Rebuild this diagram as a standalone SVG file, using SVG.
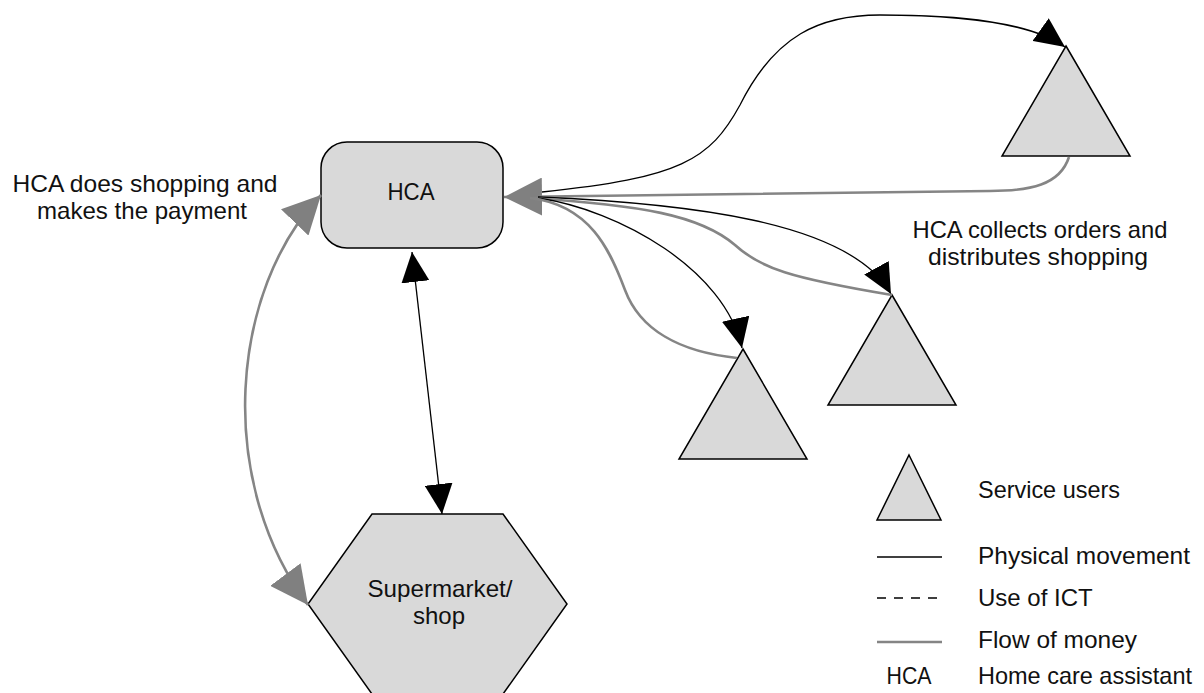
<svg xmlns="http://www.w3.org/2000/svg" width="1204" height="693" viewBox="0 0 1204 693">
<style>
.shape{fill:#d9d9d9;stroke:#000;stroke-width:1.5}
.t{font-family:"Liberation Sans",Arial,sans-serif;font-size:24px;fill:#111}
.c{text-anchor:middle}
.phys{fill:none;stroke:#000;stroke-width:1.3}
.money{fill:none;stroke:#858585;stroke-width:2.6}
.ict{fill:none;stroke:#000;stroke-width:1.3;stroke-dasharray:9 8}
</style>
<defs>
<marker id="ab" markerUnits="userSpaceOnUse" markerWidth="30" markerHeight="28" refX="30" refY="14" orient="auto-start-reverse" viewBox="0 0 30 28">
<path d="M0,0 L30,14 L0,28 z" fill="#000"/>
</marker>
<marker id="ag" markerUnits="userSpaceOnUse" markerWidth="38" markerHeight="38" refX="38" refY="19" orient="auto-start-reverse" viewBox="0 0 38 38">
<path d="M0,0 L38,19 L0,38 z" fill="#808080"/>
</marker>
</defs>
<rect width="1204" height="693" fill="#fff"/>

<g id="hca">
<rect class="shape" x="321" y="142" width="182" height="106" rx="26" ry="26"/>
<text class="t c" x="411" y="200" textLength="47" lengthAdjust="spacingAndGlyphs">HCA</text>
</g>
<g id="shop">
<polygon class="shape" points="372,514 503,514 567,604 503,694 372,694 308,604"/>
<text class="t c" x="440" y="597" textLength="145" lengthAdjust="spacingAndGlyphs">Supermarket/</text>
<text class="t c" x="439" y="624">shop</text>
</g>
<g id="user-a">
<polygon class="shape" points="743,349 807,459 679,459"/>
</g>
<g id="user-b">
<polygon class="shape" points="892,295 956,405 828,405"/>
</g>
<g id="user-c">
<polygon class="shape" points="1066,46 1130,156 1002,156"/>
</g>

<g id="connectors">
<path class="phys" d="M542,192 C680,178 710,160 740,105 C775,35 820,15 880,15 C960,15 1030,22 1065,47" marker-end="url(#ab)"/>
<path class="money" d="M1069,157 C1060,185 1030,191 990,191 L504,197" marker-end="url(#ag)"/>
<path class="phys" d="M538,197 C680,203 850,220 891,294" marker-end="url(#ab)"/>
<path class="money" d="M530,198 C640,205 700,215 735,245 C760,268 790,278 892,295"/>
<path class="phys" d="M538,198 C620,210 725,270 742,348" marker-end="url(#ab)"/>
<path class="money" d="M530,198 C590,205 610,250 625,290 C640,330 680,352 737,358"/>
<path class="phys" d="M412,252 L442,514" marker-start="url(#ab)" marker-end="url(#ab)"/>
<path class="money" d="M321,195 C230,290 215,480 308,605" marker-start="url(#ag)" marker-end="url(#ag)"/>
</g>

<g id="labels">
<text class="t c" x="145" y="192" textLength="265" lengthAdjust="spacingAndGlyphs">HCA does shopping and</text>
<text class="t c" x="142" y="219" textLength="210" lengthAdjust="spacingAndGlyphs">makes the payment</text>
<text class="t c" x="1040" y="238" textLength="255" lengthAdjust="spacingAndGlyphs">HCA collects orders and</text>
<text class="t c" x="1038" y="265" textLength="220" lengthAdjust="spacingAndGlyphs">distributes shopping</text>
</g>

<g id="legend">
<polygon class="shape" points="909,455 941,520 877,520"/>
<text class="t" x="978" y="498" textLength="142" lengthAdjust="spacingAndGlyphs">Service users</text>
<line class="phys" x1="877" y1="557" x2="942" y2="557"/>
<text class="t" x="978" y="564" textLength="212" lengthAdjust="spacingAndGlyphs">Physical movement</text>
<line class="ict" x1="877" y1="598" x2="943" y2="598"/>
<text class="t" x="978" y="606">Use of ICT</text>
<line class="money" x1="877" y1="642" x2="942" y2="642"/>
<text class="t" x="978" y="648" textLength="159" lengthAdjust="spacingAndGlyphs">Flow of money</text>
<text class="t c" x="909" y="684" textLength="45" lengthAdjust="spacingAndGlyphs">HCA</text>
<text class="t" x="978" y="684" textLength="214" lengthAdjust="spacingAndGlyphs">Home care assistant</text>
</g>
</svg>
